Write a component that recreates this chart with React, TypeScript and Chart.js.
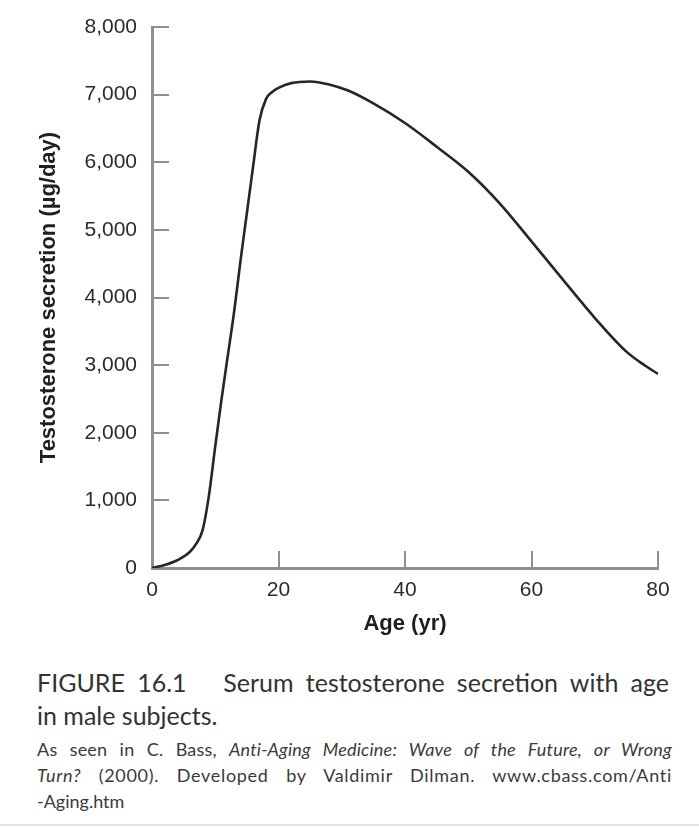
import { useEffect, useRef } from 'react';
import { Chart, registerables } from 'chart.js';

Chart.register(...registerables);

// Age (yr) and testosterone secretion (µg/day)
const ages = [0, 2, 4, 6, 7, 8, 9, 10, 11, 12, 13, 14, 15, 16, 17, 18, 19, 20, 22, 25, 28, 31, 35, 40, 45, 50, 55, 60, 65, 70, 75, 78, 80];
const secretion = [0, 45, 115, 240, 360, 560, 1070, 1800, 2500, 3150, 3800, 4550, 5250, 5950, 6620, 6930, 7040, 7100, 7170, 7195, 7150, 7060, 6870, 6580, 6230, 5860, 5390, 4830, 4260, 3700, 3200, 2990, 2870];

const xTicks = [0, 20, 40, 60, 80];
const yTicks = [0, 1000, 2000, 3000, 4000, 5000, 6000, 7000, 8000];

const AXIS_GREY = '#8f8f8f';
const TICK_LEN = 17;

// chart.js only draws ticks outward, the figure has them pointing in
const inwardTicks = {
  id: 'inwardTicks',
  afterDraw(chart: Chart) {
    const { ctx, chartArea, scales } = chart;
    ctx.save();
    ctx.strokeStyle = AXIS_GREY;
    ctx.lineWidth = 2;
    ctx.beginPath();
    yTicks.forEach((v) => {
      if (v === 0) return;
      const y = Math.round(scales.y.getPixelForValue(v));
      ctx.moveTo(chartArea.left, y);
      ctx.lineTo(chartArea.left + TICK_LEN, y);
    });
    xTicks.forEach((v) => {
      if (v === 0) return;
      const x = Math.round(scales.x.getPixelForValue(v));
      ctx.moveTo(x, chartArea.bottom);
      ctx.lineTo(x, chartArea.bottom - TICK_LEN);
    });
    ctx.stroke();
    ctx.restore();
  },
};

const TestosteroneChart = () => {
  const chartRef = useRef<HTMLCanvasElement>(null);
  const chartInstance = useRef<Chart | null>(null);

  useEffect(() => {
    if (!chartRef.current) return;
    if (chartInstance.current) chartInstance.current.destroy();

    const tickFont = { family: '"Liberation Sans", Arial, sans-serif', size: 21 };
    const titleFont = { family: '"Liberation Sans", Arial, sans-serif', size: 22, weight: 'bold' as const };

    chartInstance.current = new Chart(chartRef.current, {
      type: 'line',
      data: {
        datasets: [
          {
            label: 'Testosterone secretion',
            data: ages.map((a, i) => ({ x: a, y: secretion[i] })),
            borderColor: '#262626',
            borderWidth: 2.6,
            pointRadius: 0,
            cubicInterpolationMode: 'monotone',
            fill: false,
          },
        ],
      },
      options: {
        animation: false,
        responsive: true,
        maintainAspectRatio: false,
        layout: { padding: { left: 0, right: 41, top: 27, bottom: 0 } },
        plugins: {
          legend: { display: false },
          tooltip: { enabled: false },
        },
        scales: {
          x: {
            type: 'linear',
            min: 0,
            max: 80,
            afterBuildTicks: (scale) => {
              scale.ticks = xTicks.map((v) => ({ value: v }));
            },
            afterFit: (scale) => {
              scale.height = 72;
            },
            grid: { display: false },
            border: { display: true, color: AXIS_GREY, width: 3 },
            ticks: { color: '#2b2b2b', font: tickFont, padding: 2, maxRotation: 0 },
            title: {
              display: true,
              text: 'Age (yr)',
              color: '#1f1f1f',
              font: titleFont,
              padding: { top: 0, bottom: 3 },
            },
          },
          y: {
            type: 'linear',
            min: 0,
            max: 8000,
            afterBuildTicks: (scale) => {
              scale.ticks = yTicks.map((v) => ({ value: v }));
            },
            afterFit: (scale) => {
              scale.width = 152;
            },
            grid: { display: false },
            border: { display: true, color: AXIS_GREY, width: 3 },
            ticks: {
              color: '#2b2b2b',
              font: tickFont,
              padding: 7,
              callback: (value) => Number(value).toLocaleString('en-US'),
            },
            title: {
              display: true,
              text: 'Testosterone secretion (µg/day)',
              color: '#1f1f1f',
              font: titleFont,
              padding: { top: 36, bottom: 0 },
            },
          },
        },
      },
      plugins: [inwardTicks],
    });

    return () => {
      if (chartInstance.current) {
        chartInstance.current.destroy();
        chartInstance.current = null;
      }
    };
  }, []);

  return (
    <div style={{ position: 'absolute', left: 0, top: 0, width: 699, height: 640 }}>
      <canvas ref={chartRef}></canvas>
    </div>
  );
};

const justified = { textAlign: 'justify' as const, textAlignLast: 'justify' as const, whiteSpace: 'nowrap' as const };

const App = () => {
  return (
    <div style={{ position: 'absolute', left: 0, top: 0, width: 699, height: 827, background: '#fff', overflow: 'hidden' }}>
      <TestosteroneChart />
      <div
        style={{
          position: 'absolute',
          left: 37,
          top: 666,
          width: 632,
          fontFamily: 'Lato, "Open Sans", sans-serif',
          fontSize: 25,
          lineHeight: '33px',
          color: '#333',
        }}
      >
        <div style={justified}>FIGURE 16.1&nbsp;&nbsp; Serum testosterone secretion with age</div>
        <div>in male subjects.</div>
      </div>
      <div
        style={{
          position: 'absolute',
          left: 37,
          top: 736,
          width: 635,
          fontFamily: 'Lato, "Open Sans", sans-serif',
          fontSize: 18,
          lineHeight: '26px',
          color: '#3a3a3a',
        }}
      >
        <div style={{ ...justified, letterSpacing: 0.2 }}>
          As seen in C. Bass, <i>Anti-Aging Medicine: Wave of the Future, or Wrong</i>
        </div>
        <div style={{ ...justified, letterSpacing: 0.7 }}>
          <i>Turn?</i> (2000). Developed by Valdimir Dilman. www.cbass.com/Anti
        </div>
        <div>-Aging.htm</div>
      </div>
      <div style={{ position: 'absolute', left: 0, top: 824, width: 699, height: 2, background: '#e2e2e2' }} />
    </div>
  );
};

export default App;
